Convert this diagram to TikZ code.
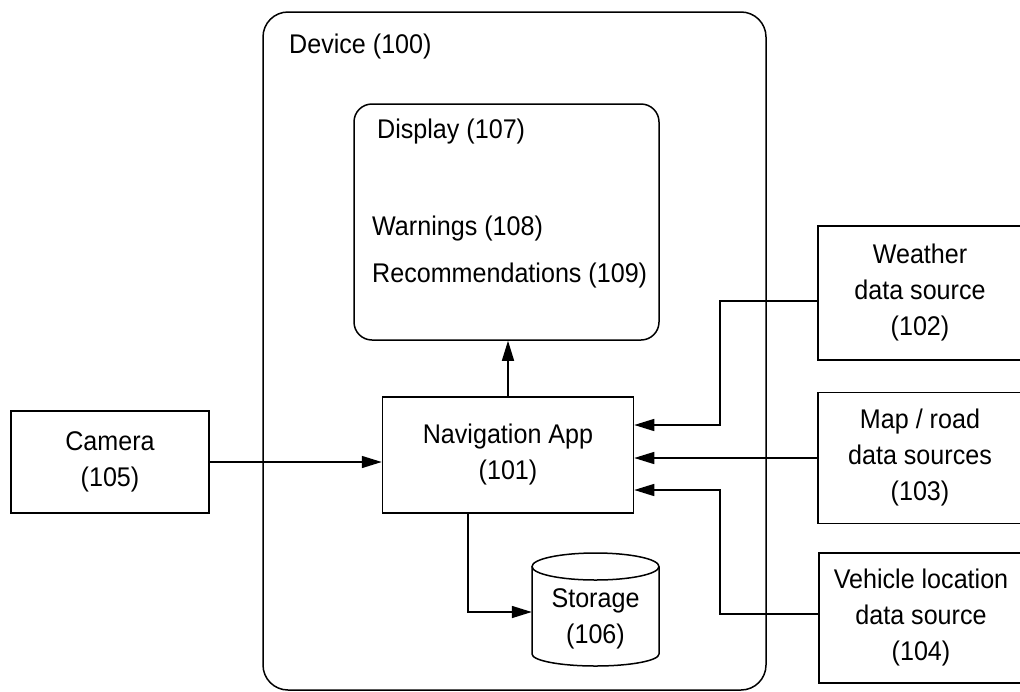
\documentclass[tikz,border=0pt]{standalone}
\usepackage{fontspec}
\setmainfont[FakeStretch=0.93]{Liberation Sans}
\usetikzlibrary{arrows.meta,calc}
\begin{document}
\begin{tikzpicture}[x=1pt,y=-1pt,
  every node/.style={font=\fontsize{27}{36}\selectfont, inner sep=0pt},
  box/.style={draw, line width=1.5pt},
  arr/.style={line width=1.5pt, -{Triangle[length=20pt,width=12pt]}},
  lbl/.style={anchor=west}]
\useasboundingbox (0,0) rectangle (1020,691);
\fill[white] (0,0) rectangle (1020,691);
% device
\node[box, rounded corners=25pt, minimum width=503pt, minimum height=678pt] (device) at (514.5,351) {};
\node[lbl] (devlbl) at (289,47) {Device (100)};
% display
\node[box, rounded corners=18pt, minimum width=305pt, minimum height=236pt] (display) at (506.5,222) {};
\node[lbl] (displbl) at (377,132) {Display (107)};
\node[lbl] (warn) at (372,229) {Warnings (108)};
\node[lbl] (recom) at (372,276) {Recommendations (109)};
% navigation app
\node[box, minimum width=251pt, minimum height=116pt, align=center] (nav) at (508,455) {Navigation App\\(101)};
% camera
\node[box, minimum width=198pt, minimum height=102pt, align=center] (camera) at (110,462) {Camera\\(105)};
% storage
\node[minimum width=127pt, minimum height=100pt] (storage) at (595.5,610) {};
\node[align=center] (stlbl) at (595.5,619) {Storage\\(106)};
\draw[line width=1.5pt] (532,566.5) -- (532,654) arc[start angle=180, end angle=0, x radius=63.5, y radius=12] -- (659,566.5);
\draw[line width=1.5pt] (595.5,566.5) ellipse[x radius=63.5, y radius=13.5];
% sources
\node[box, minimum width=204pt, minimum height=134pt, align=center] (weather) at (920,293) {Weather\\data source\\(102)};
\node[box, minimum width=204pt, minimum height=131pt, align=center] (map) at (920,458) {Map / road\\data sources\\(103)};
\node[box, minimum width=204pt, minimum height=130pt, align=center] (vehicle) at (921,618) {Vehicle location\\data source\\(104)};
% connectors
\draw[arr] (camera.east) -- (camera.east -| nav.west);
\draw[arr] (nav.north) -- (nav.north |- display.south);
\coordinate (wj) at (720,425);
\draw[arr] ([yshift=-8pt]weather.west) -| (wj) -- (wj -| nav.east);
\draw[arr] (map.west) -- (map.west -| nav.east);
\coordinate (vj) at (720,490);
\draw[arr] ([yshift=4pt]vehicle.west) -| (vj) -- (vj -| nav.east);
\coordinate (sj) at (468,612);
\draw[arr] (sj |- nav.south) -- (sj) -- (sj -| storage.west);
\end{tikzpicture}
\end{document}
